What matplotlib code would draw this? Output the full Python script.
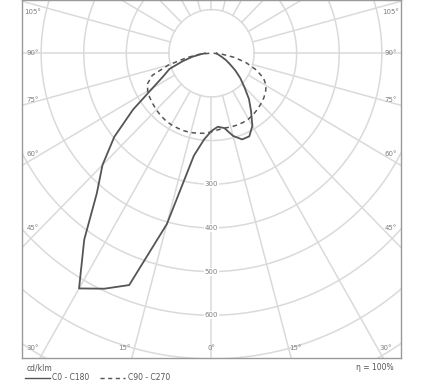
import numpy as np
import matplotlib
matplotlib.use("Agg")
import matplotlib.pyplot as plt

# Photometric data (cd/klm), gamma measured from nadir
gamma = [0, 5, 10, 15, 20, 25, 30, 35, 40, 45, 50, 55, 60, 65, 70, 75, 80, 85, 90]
c0 = [178, 169, 174, 196, 210, 210, 192, 162, 137, 109, 88, 68, 50, 38, 27, 20, 16, 13, 12]
c180 = [178, 198, 238, 405, 565, 595, 622, 521, 419, 362, 298, 225, 160, 125, 105, 70, 45, 25, 15]
c90 = [180, 176, 174, 175, 175, 175, 174, 171, 168, 164, 160, 155, 148, 135, 112, 85, 55, 25, 5]
c270 = [180, 184, 186, 188, 189, 189, 189, 188, 186, 183, 180, 177, 173, 166, 148, 105, 60, 30, 5]

ring_values = [300, 400, 500, 600]
side_labels = ["105°", "90°", "75°", "60°", "45°"]
bottom_labels = ["30°", "15°", "0°", "15°", "30°"]

GRID = "#dadada"
INK = "#555555"
TXT = "#808080"


def curve_xy(left, right):
    g = np.radians(gamma)
    left = np.asarray(left, float)
    right = np.asarray(right, float)
    xl = -left * np.sin(g)
    yl = -left * np.cos(g)
    xr = right * np.sin(g)
    yr = -right * np.cos(g)
    x = np.concatenate([xl[::-1], xr[1:]])
    y = np.concatenate([yl[::-1], yr[1:]])
    return x, y


fig = plt.figure(figsize=(4.27, 3.91), dpi=100)
ax = fig.add_axes([0.0515, 0.0844, 0.8876, 0.9156])
ax.set_xlim(-445, 445)
ax.set_ylim(-698, 122)
ax.set_xticks([])
ax.set_yticks([])
for s in ax.spines.values():
    s.set_color("#9a9a9a")
    s.set_linewidth(1.0)

# grid circles
t = np.linspace(0, 2 * np.pi, 400)
for r in range(100, 1000, 100):
    ax.plot(r * np.cos(t), r * np.sin(t), color=GRID, lw=1.1, zorder=1)
# radial rays every 15 deg, starting at r=100
for a in range(0, 360, 15):
    ar = np.radians(a)
    ax.plot([100 * np.sin(ar), 1000 * np.sin(ar)], [-100 * np.cos(ar), -1000 * np.cos(ar)],
            color=GRID, lw=1.1, zorder=1)

# curves
x, y = curve_xy(c180, c0)
ax.plot(x, y, color=INK, lw=1.3, zorder=3)
x, y = curve_xy(c270, c90)
ax.plot(x, y, color=INK, lw=1.1, ls=(0, (3, 2.5)), zorder=3)

# ring labels
for r in ring_values:
    ax.text(0, -r, str(r), fontsize=5, color=TXT, ha="center", va="center", zorder=2,
            bbox=dict(boxstyle="square,pad=0.15", fc="white", ec="none"))

# angle labels
side_y = [94, 0, -108, -230, -401]
for lab, yy in zip(side_labels, side_y):
    ax.text(-420, yy, lab, fontsize=5, color=TXT, ha="center", va="center", zorder=2)
    ax.text(420, yy, lab, fontsize=5, color=TXT, ha="center", va="center", zorder=2)
bottom_x = [-420, -204, 0, 197, 410]
for lab, xx in zip(bottom_labels, bottom_x):
    ax.text(xx, -675, lab, fontsize=5, color=TXT, ha="center", va="center", zorder=2)

# footer
fig.text(27 / 427, 1 - 368 / 391, "cd/klm", fontsize=5.5, color="#555555", ha="left", va="center")
fig.add_artist(plt.Line2D([25 / 427, 50 / 427], [1 - 378 / 391] * 2, color=INK, lw=1.0))
fig.text(52 / 427, 1 - 378 / 391, "C0 - C180", fontsize=5.5, color="#555555", ha="left", va="center")
fig.add_artist(plt.Line2D([100 / 427, 125 / 427], [1 - 378 / 391] * 2, color=INK, lw=1.0,
                          ls=(0, (3, 2.5))))
fig.text(128 / 427, 1 - 378 / 391, "C90 - C270", fontsize=5.5, color="#555555", ha="left", va="center")
fig.text(394 / 427, 1 - 368 / 391, "η = 100%", fontsize=5.5, color="#555555", ha="right", va="center")

fig.savefig("out.png", dpi=100)
